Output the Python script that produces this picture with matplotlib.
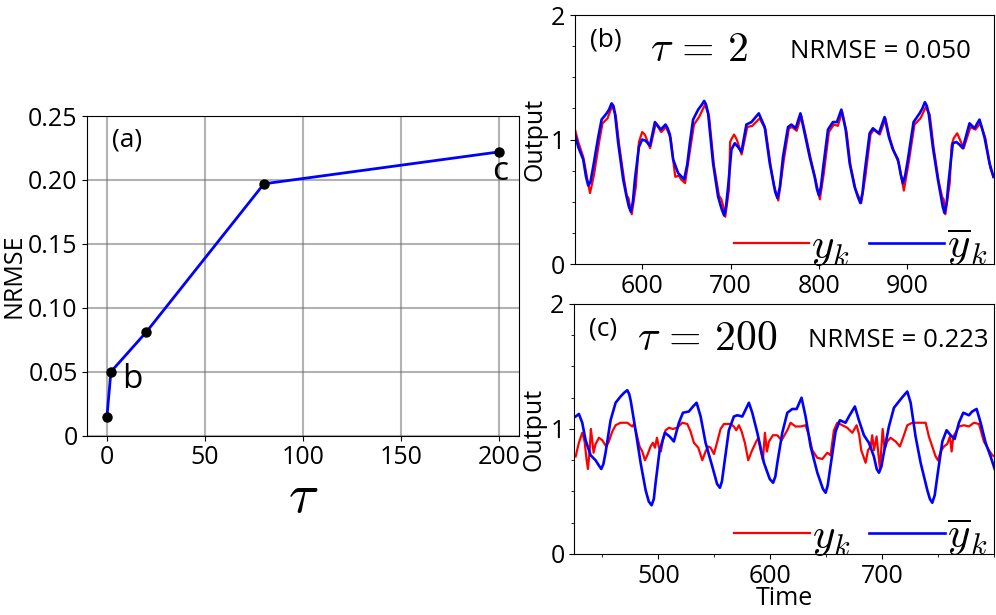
import matplotlib
matplotlib.use("Agg")
import matplotlib.pyplot as plt
from matplotlib.ticker import MultipleLocator, FuncFormatter

plt.rcParams['font.family'] = ['Open Sans', 'DejaVu Sans']
plt.rcParams['mathtext.fontset'] = 'cm'

# panel (a): NRMSE against tau
tau = [0, 2, 20, 80, 200]
nrmse = [0.015, 0.050, 0.081, 0.197, 0.222]

# panel (b): tau = 2
t_b_pred = [524.0, 527.7, 533.3, 536.5, 539.0, 541.5, 544.6, 550.3, 554.1, 559.8,
            562.5, 565.4, 567.5, 569.2, 572.9, 578.5, 582.4, 585.0, 587.2, 589.5,
            591.8, 596.3, 600.0, 604.0, 608.7, 611.5, 614.4, 621.1, 626.4, 628.8,
            631.3, 635.0, 640.7, 647.5, 651.0, 653.9, 657.6, 663.3, 667.5, 670.1,
            672.3, 674.6, 680.2, 685.9, 690.0, 692.7, 695.0, 697.2, 701.0, 704.7,
            708.5, 712.3, 717.9, 723.6, 731.9, 738.6, 744.3, 750.5, 753.0, 755.8,
            759.3, 765.0, 768.8, 773.7, 779.0, 783.8, 789.5, 795.1, 797.8, 800.0,
            802.2, 804.5, 810.2, 815.8, 820.3, 825.3, 830.2, 834.7, 840.3, 844.0,
            846.8, 849.2, 851.6, 857.3, 861.0, 867.8, 874.2, 879.1, 883.6, 889.3,
            892.5, 894.9, 897.5, 900.6, 907.0, 913.8, 917.0, 919.8, 922.0, 924.3,
            928.8, 934.5, 938.3, 940.0, 942.0, 944.5, 946.9, 951.4, 955.3, 958.8,
            962.7, 970.3, 975.9, 981.6, 987.2, 992.9, 997.4]
y_b_pred = [1.04, 0.94, 0.84, 0.70, 0.63, 0.66, 0.78, 1.02, 1.16, 1.21,
            1.24, 1.29, 1.27, 1.21, 0.97, 0.68, 0.54, 0.46, 0.42, 0.50,
            0.68, 0.94, 1.00, 0.99, 0.95, 1.04, 1.14, 1.08, 1.12, 1.09,
            1.04, 0.84, 0.73, 0.68, 0.80, 0.97, 1.16, 1.24, 1.28, 1.31,
            1.28, 1.21, 0.81, 0.54, 0.44, 0.39, 0.47, 0.62, 0.92, 0.97,
            0.94, 0.90, 1.12, 1.14, 1.21, 1.10, 0.81, 0.58, 0.53, 0.62,
            0.86, 1.10, 1.12, 1.09, 1.21, 1.05, 0.86, 0.70, 0.60, 0.55,
            0.62, 0.76, 1.08, 1.14, 1.14, 1.24, 1.08, 0.81, 0.62, 0.54,
            0.49, 0.57, 0.73, 1.05, 1.09, 1.05, 1.18, 1.02, 0.92, 0.84,
            0.72, 0.65, 0.71, 0.84, 1.14, 1.21, 1.25, 1.30, 1.27, 1.20,
            0.94, 0.68, 0.53, 0.46, 0.41, 0.50, 0.68, 0.97, 0.98, 0.96,
            0.93, 1.13, 1.09, 1.16, 1.02, 0.81, 0.70]

t_b_true = [524.0, 527.7, 533.3, 538.0, 541.0, 545.6, 551.3, 555.1, 560.8, 566.0,
            570.2, 573.9, 579.5, 582.5, 584.5, 586.0, 588.2, 592.8, 596.3, 600.0,
            603.0, 609.0, 615.4, 621.5, 627.0, 632.3, 636.0, 637.5, 641.5, 644.0,
            648.5, 654.9, 658.6, 664.3, 671.1, 675.6, 681.2, 686.9, 689.5, 691.5,
            694.0, 698.2, 699.5, 701.5, 704.0, 707.0, 712.5, 718.9, 724.6, 732.9,
            739.6, 745.3, 749.0, 754.0, 760.3, 766.0, 769.8, 774.7, 780.0, 784.8,
            790.5, 796.1, 801.0, 805.5, 811.2, 816.8, 821.3, 826.3, 831.2, 835.7,
            841.3, 847.8, 852.6, 858.3, 862.0, 868.8, 875.2, 880.1, 884.6, 890.3,
            896.0, 901.6, 908.0, 914.8, 920.8, 925.3, 929.8, 935.5, 939.3, 941.0,
            943.0, 947.9, 950.0, 952.4, 956.3, 963.7, 971.3, 976.9, 982.6, 988.2,
            993.9, 997.4]
y_b_true = [1.08, 0.98, 0.86, 0.68, 0.57, 0.72, 0.98, 1.13, 1.17, 1.27,
            1.19, 0.96, 0.68, 0.55, 0.53, 0.47, 0.40, 0.62, 0.98, 1.06,
            1.04, 0.93, 1.13, 1.06, 1.10, 1.01, 0.78, 0.70, 0.71, 0.68,
            0.65, 0.95, 1.12, 1.18, 1.28, 1.19, 0.79, 0.55, 0.52, 0.47,
            0.38, 0.60, 0.98, 1.01, 1.04, 1.00, 0.88, 1.10, 1.11, 1.17,
            1.08, 0.79, 0.63, 0.51, 0.84, 1.09, 1.10, 1.07, 1.19, 1.04,
            0.85, 0.68, 0.52, 0.73, 1.06, 1.12, 1.11, 1.22, 1.06, 0.79,
            0.60, 0.49, 0.71, 1.04, 1.08, 1.04, 1.17, 1.01, 0.91, 0.81,
            0.59, 0.82, 1.12, 1.17, 1.26, 1.20, 0.93, 0.66, 0.54, 0.52,
            0.40, 0.65, 0.95, 1.01, 1.05, 0.93, 1.10, 1.08, 1.13, 1.01,
            0.77, 0.70]

# panel (c): tau = 200
t_c_pred = [426.2, 429.1, 432.1, 435.1, 439.6, 444.0, 446.8, 449.1, 451.0, 452.9,
            457.4, 461.9, 466.3, 469.5, 472.3, 474.0, 475.3, 479.7, 484.2, 488.7,
            491.5, 494.0, 496.0, 497.6, 501.2, 505.9, 510.1, 513.9, 518.4, 522.0,
            527.3, 531.0, 534.2, 537.8, 542.2, 548.2, 552.5, 555.0, 556.8, 558.6,
            563.0, 567.5, 570.5, 575.0, 580.9, 583.9, 588.4, 594.3, 599.5, 602.5,
            604.5, 606.3, 610.7, 615.2, 619.6, 623.5, 627.9, 631.5, 636.0, 642.0,
            647.0, 649.4, 651.3, 653.2, 658.3, 662.1, 667.2, 670.2, 675.5, 679.1,
            683.6, 688.0, 692.5, 695.0, 697.0, 699.2, 701.4, 705.9, 710.4, 714.8,
            718.4, 722.3, 725.3, 729.7, 734.2, 740.2, 742.5, 744.6, 746.8, 749.1,
            753.6, 757.4, 761.0, 764.6, 768.4, 772.3, 777.3, 780.3, 784.2, 787.8,
            792.2, 796.7, 800.3]
y_c_pred = [1.10, 1.12, 1.05, 0.91, 0.79, 0.75, 0.71, 0.68, 0.72, 0.81,
            1.07, 1.21, 1.26, 1.29, 1.31, 1.28, 1.23, 0.99, 0.73, 0.51,
            0.42, 0.39, 0.44, 0.57, 0.83, 0.97, 0.94, 0.90, 1.05, 1.13,
            1.14, 1.18, 1.21, 1.10, 0.89, 0.70, 0.56, 0.53, 0.58, 0.70,
            0.99, 1.10, 1.11, 1.10, 1.21, 1.13, 0.97, 0.73, 0.60, 0.57,
            0.62, 0.73, 0.97, 1.13, 1.16, 1.16, 1.25, 1.10, 0.86, 0.65,
            0.52, 0.49, 0.55, 0.67, 0.98, 1.07, 1.05, 1.10, 1.18, 1.07,
            0.95, 0.89, 0.78, 0.68, 0.65, 0.70, 0.81, 1.02, 1.17, 1.22,
            1.26, 1.30, 1.21, 0.94, 0.73, 0.51, 0.44, 0.41, 0.47, 0.62,
            0.90, 0.99, 0.95, 0.92, 1.05, 1.13, 1.11, 1.14, 1.16, 1.05,
            0.89, 0.78, 0.68]

t_c_true = [426.2, 429.1, 432.1, 434.2, 436.0, 437.2, 438.7, 439.8, 441.0, 442.2,
            444.0, 447.0, 450.0, 453.5, 455.9, 458.9, 461.9, 466.3, 472.3, 475.3,
            476.8, 478.2, 480.3, 483.3, 485.7, 488.1, 490.2, 493.1, 495.2, 497.0,
            498.8, 500.6, 502.3, 504.1, 506.5, 509.5, 513.1, 516.9, 521.4, 525.9,
            528.8, 531.8, 535.7, 539.3, 542.2, 544.6, 546.7, 549.7, 552.7, 555.6,
            558.6, 564.6, 567.5, 569.6, 572.0, 574.4, 577.3, 580.3, 583.3, 586.9,
            589.3, 591.3, 593.4, 595.2, 597.0, 598.8, 602.3, 606.2, 610.1, 615.2,
            618.1, 622.6, 627.1, 631.5, 634.5, 637.5, 641.9, 646.4, 650.9, 653.8,
            656.8, 659.8, 664.3, 668.7, 673.2, 677.1, 679.4, 681.2, 685.1, 687.2,
            689.6, 691.0, 692.5, 694.9, 697.9, 700.3, 702.1, 704.4, 707.4, 711.9,
            715.7, 719.3, 722.3, 726.8, 734.2, 738.7, 741.6, 744.6, 747.6, 749.7,
            752.1, 755.0, 758.0, 760.4, 761.9, 763.4, 765.4, 768.4, 772.9, 777.3,
            781.8, 786.3, 790.7, 795.2, 798.2, 800.3]
y_c_true = [0.78, 0.89, 0.97, 0.90, 0.75, 0.68, 0.83, 1.00, 0.91, 0.81,
            0.88, 0.93, 0.91, 0.86, 0.90, 0.98, 1.03, 1.05, 1.05, 1.03,
            1.02, 1.04, 0.97, 0.86, 0.82, 0.75, 0.79, 0.86, 0.89, 0.85,
            0.93, 0.85, 0.82, 0.91, 0.99, 1.01, 1.00, 1.01, 1.05, 1.04,
            0.98, 0.89, 0.85, 0.75, 0.82, 0.86, 0.85, 0.80, 0.90, 1.00,
            1.04, 1.04, 1.02, 0.99, 1.03, 0.98, 0.89, 0.75, 0.82, 0.89,
            0.93, 0.83, 0.75, 0.97, 0.82, 0.90, 0.95, 0.95, 0.91, 0.99,
            1.05, 1.02, 1.02, 1.03, 0.95, 0.83, 0.77, 0.76, 0.81, 0.79,
            0.99, 1.05, 1.03, 1.01, 0.97, 1.03, 0.95, 0.83, 0.73, 0.83,
            0.86, 0.95, 0.83, 0.94, 0.68, 1.00, 0.84, 0.90, 0.93, 0.90,
            0.86, 0.95, 1.03, 1.05, 1.05, 1.05, 0.94, 0.86, 0.78, 0.75,
            0.82, 0.86, 0.88, 0.94, 0.82, 0.94, 0.97, 1.02, 1.03, 1.02,
            1.05, 1.04, 0.90, 0.83, 0.79, 0.78]

FS = 18

fig = plt.figure(figsize=(9.96, 6.15), dpi=100)

### (a)
ax = fig.add_axes([0.0877, 0.2915, 0.4334, 0.5198])
ax.plot(tau, nrmse, '-', color='blue', lw=2, zorder=3)
ax.plot(tau, nrmse, 'o', color='black', ms=6.5, zorder=4)
ax.set_xlim(-10, 210)
ax.set_ylim(0, 0.25)
ax.set_xticks([0, 50, 100, 150, 200])
ax.set_yticks([0, 0.05, 0.10, 0.15, 0.20, 0.25])
ax.yaxis.set_major_formatter(FuncFormatter(lambda v, p: '0' if v == 0 else '%.2f' % v))
ax.grid(True, color='0.45', alpha=0.55, lw=1.5)
ax.tick_params(labelsize=FS)
ax.set_ylabel('NRMSE', fontsize=FS)
ax.yaxis.set_label_coords(-0.142, 0.5)
ax.set_xlabel(r'$\tau$', fontsize=40, labelpad=-1)
ax.text(2.4, 0.231, '(a)', fontsize=19, va='center', ha='left')
ax.text(7.7, 0.0436, 'b', fontsize=24, va='center', ha='left')
ax.text(196.3, 0.2064, 'c', fontsize=24, va='center', ha='left')


def panel(ax, t_true, y_true, t_pred, y_pred, xlim, ticks, tag, ttl, err, ttl_x, err_x,
          minor_x):
    ax.plot(t_true, y_true, color='red', lw=1.6, label=r'$y_k$')
    ax.plot(t_pred, y_pred, color='blue', lw=1.9, label=r'$\overline{y}_k$')
    ax.set_xlim(*xlim)
    ax.set_ylim(0, 2)
    ax.set_xticks(ticks)
    ax.set_yticks([0, 1, 2])
    ax.yaxis.set_minor_locator(MultipleLocator(0.25))
    if minor_x:
        ax.xaxis.set_minor_locator(MultipleLocator(50))
    ax.tick_params(labelsize=FS, length=3.5)
    ax.tick_params(which='minor', length=2)
    ax.set_ylabel('Output', fontsize=FS)
    ax.yaxis.set_label_coords(-0.066, 0.5)
    ax.text(0.035, 0.9, tag, transform=ax.transAxes, fontsize=19, va='center', ha='left')
    ax.text(ttl_x, 0.86, ttl, transform=ax.transAxes, fontsize=30, va='center', ha='left')
    ax.text(err_x, 0.855, err, transform=ax.transAxes, fontsize=18.5, va='center', ha='right')
    ax.legend(loc='lower right', bbox_to_anchor=(1.055, -0.14), ncol=2, frameon=False,
              fontsize=31, handlelength=1.75, handletextpad=0.05, columnspacing=0.45,
              borderpad=0.2)


### (b)
axb = fig.add_axes([0.5773, 0.5707, 0.4207, 0.4049])
panel(axb, t_b_true, y_b_true, t_b_pred, y_b_pred, (524, 998), [600, 700, 800, 900],
      '(b)', r'$\tau\,=\,2$', 'NRMSE = 0.050', 0.18, 0.945, False)

### (c)
axc = fig.add_axes([0.5766, 0.0992, 0.4217, 0.4065])
panel(axc, t_c_true, y_c_true, t_c_pred, y_c_pred, (425, 800), [500, 600, 700],
      '(c)', r'$\tau\,=\,200$', 'NRMSE = 0.223', 0.15, 0.985, True)
axc.set_xlabel('Time', fontsize=FS)
axc.xaxis.set_label_coords(0.5, -0.128)

fig.savefig('out.png', dpi=100)
